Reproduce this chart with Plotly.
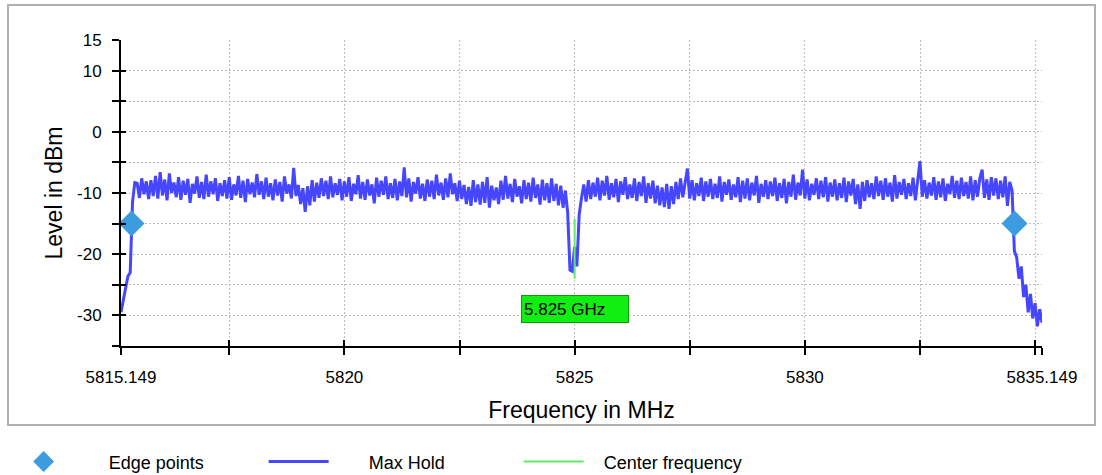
import plotly.graph_objects as go

# ---------------- data ----------------
start_freq_mhz = 5815.149
stop_freq_mhz = 5835.149

max_hold_dbm = [
    -29.5, -27.5, -25.2, -23.6, -23.0, -11.5, -8.3,
    -8.4, -10.8, -7.6, -10.2, -8.1, -11.0, -7.9, -10.5, -7.2, -10.9,
    -6.6, -10.4, -7.8, -11.2, -6.8, -10.0, -8.3, -10.7, -7.4, -11.1,
    -8.0, -10.3, -7.7, -11.6, -8.5, -10.1, -7.3, -10.8, -8.2, -11.0,
    -7.0, -10.6, -8.1, -10.2, -7.6, -11.3, -8.4, -10.5, -7.9, -10.9,
    -7.4, -11.1, -8.6, -10.4, -7.2, -10.8, -8.0, -11.5, -7.7, -10.2,
    -8.3, -10.7, -6.9, -10.3, -8.1, -11.0, -7.5, -10.6, -8.4, -11.2,
    -7.8, -10.4, -8.2, -11.4, -7.3, -10.1, -8.6, -10.9, -5.9, -10.5,
    -8.7, -11.8, -9.2, -13.1, -8.9, -12.0, -7.9, -11.4, -8.3, -10.8,
    -7.6, -10.5, -8.0, -11.0, -7.3, -10.7, -8.4, -10.3, -7.7, -11.2,
    -8.1, -10.6, -7.4, -11.3, -8.5, -10.2, -7.1, -10.9, -8.2, -11.1,
    -7.8, -10.4, -8.6, -11.7, -7.5, -10.6, -8.0, -10.3, -7.3, -11.0,
    -8.4, -10.8, -7.7, -11.2, -8.1, -10.5, -5.8, -10.7, -7.6, -11.4,
    -8.2, -10.1, -7.4, -10.9, -8.5, -11.3, -7.8, -10.6, -8.0, -11.0,
    -7.0, -10.4, -8.3, -11.1, -7.6, -10.7, -6.8, -10.2, -8.4, -11.3,
    -8.0, -11.0, -8.7, -11.8, -9.0, -12.1, -7.9, -11.5, -8.6, -11.9,
    -8.2, -11.6, -7.4, -12.4, -8.8, -11.2, -9.1, -11.8, -8.0, -11.1,
    -7.2, -10.9, -8.5, -11.5, -7.7, -10.6, -8.9, -11.7, -7.9, -11.0,
    -8.3, -11.4, -7.5, -10.8, -8.6, -11.9, -7.8, -11.2, -8.4, -11.6,
    -7.6, -11.3, -8.5, -12.0, -8.8, -12.4, -9.6,
    -13.2, -22.6, -22.8, -18.8, -22.0, -13.5,
    -10.8, -8.6, -11.4, -7.9, -11.0, -8.3, -10.6, -7.5, -11.2, -8.0,
    -10.4, -7.2, -11.1, -8.4, -10.7, -7.7, -11.5, -8.1, -10.3, -7.4,
    -11.0, -8.6, -10.8, -7.6, -11.3, -8.2, -10.5, -7.3, -11.6, -8.4,
    -10.9, -8.0, -11.7, -8.8, -12.0, -9.1, -12.3, -8.5, -12.6, -8.9,
    -11.8, -8.2, -11.0, -7.6, -10.7, -8.3, -6.0, -10.9, -7.9, -11.2,
    -8.4, -10.5, -7.5, -11.3, -8.1, -10.6, -7.7, -11.0, -8.5, -10.8,
    -7.3, -11.4, -8.2, -10.3, -7.8, -11.1, -8.6, -10.7, -7.4, -11.5,
    -8.0, -10.9, -7.6, -11.2, -8.3, -10.4, -7.2, -11.6, -8.5, -10.6,
    -7.9, -11.0, -8.1, -10.5, -7.5, -11.3, -8.4, -10.8, -7.7, -11.7,
    -8.2, -10.6, -7.0, -11.1, -8.3, -10.4, -6.2, -10.9, -7.8, -11.2,
    -8.5, -10.3, -7.6, -11.0, -8.0, -10.7, -7.4, -11.4, -8.3, -10.6,
    -7.8, -11.2, -8.4, -10.8, -7.5, -11.5, -8.1, -10.4, -7.7, -11.8,
    -8.6, -12.6, -8.2, -11.3, -7.9, -10.7, -8.4, -11.0, -7.3, -10.5,
    -8.0, -11.1, -7.6, -10.6, -8.3, -11.4, -7.1, -10.9, -8.2, -10.3,
    -7.7, -11.0, -8.4, -10.5, -7.5, -11.2, -8.0, -4.8, -10.6, -7.9,
    -10.9, -8.3, -10.4, -7.4, -11.1, -8.1, -10.7, -7.6, -11.3, -8.5,
    -10.2, -7.2, -10.8, -8.0, -11.0, -7.5, -10.5, -8.2, -10.9, -7.3,
    -11.2, -7.9, -10.6, -7.6, -6.2, -10.8, -7.8, -11.1, -7.4, -10.4,
    -7.6, -11.0, -8.0, -10.7, -7.3, -12.1, -8.2, -9.6,
    -19.5, -20.5, -24.0, -22.0, -27.0, -25.0, -29.5, -26.5, -30.5, -28.0,
    -31.8, -29.0, -31.2,
]

edge_freqs_mhz = [5815.377, 5834.552]
edge_levels_dbm = [-15.0, -15.0]

center_freq_mhz = 5825.0
center_line_levels_dbm = [-14.2, -24.0]
center_label = "5.825 GHz"
center_label_level_dbm = -28.9

x_tick_vals = [5815.149, 5817.5, 5820, 5822.5, 5825, 5827.5, 5830, 5832.5, 5835, 5835.149]
x_tick_text = ["5815.149", "", "5820", "", "5825", "", "5830", "", "", "5835.149"]
y_tick_vals = [15, 10, 5, 0, -5, -10, -15, -20, -25, -30, -35]
y_tick_text = ["15", "10", "", "0", "", "-10", "", "-20", "", "-30", ""]

# ---------------- derived ----------------
n_pts = len(max_hold_dbm)
step = (stop_freq_mhz - start_freq_mhz) / (n_pts - 1)
freqs_mhz = [start_freq_mhz + i * step for i in range(n_pts)]

FONT = "Liberation Sans, Arial, sans-serif"
GRID = "#bdbdbd"
NB = "\u00a0"

fig = go.Figure()

fig.add_trace(go.Scatter(
    x=freqs_mhz, y=max_hold_dbm, mode="lines", name=NB * 7 + "Max Hold",
    line=dict(color="#4646ff", width=3), legendrank=2,
))
fig.add_trace(go.Scatter(
    x=[center_freq_mhz, center_freq_mhz], y=center_line_levels_dbm, mode="lines",
    name=NB * 3 + "Center frequency", line=dict(color="#66e666", width=2),
    legendrank=3,
))
fig.add_trace(go.Scatter(
    x=edge_freqs_mhz, y=edge_levels_dbm, mode="markers", name=NB * 6 + "Edge points",
    marker=dict(symbol="diamond", size=20, color="#3d9be0"), legendrank=1,
))
# empty trace to activate overlay axes (tick marks crossing the axis lines)
fig.add_trace(go.Scatter(x=[], y=[], xaxis="x2", yaxis="y2", showlegend=False,
                         hoverinfo="skip"))

fig.add_annotation(
    x=center_freq_mhz, y=center_label_level_dbm, text=center_label, showarrow=False,
    font=dict(family=FONT, size=17, color="black"),
    bgcolor="#11ee11", bordercolor="#0c9a0c", borderwidth=1, borderpad=2,
    width=102, height=22, align="left",
)

axis_common = dict(showline=True, linecolor="black", linewidth=2, ticks="outside",
                   tickcolor="black", tickwidth=2, zeroline=False, automargin=False,
                   tickfont=dict(family=FONT, size=17, color="black"))

fig.update_layout(
    width=1102, height=475,
    margin=dict(l=121, r=60, t=40, b=129, autoexpand=False),
    paper_bgcolor="white", plot_bgcolor="white",
    xaxis=dict(range=[start_freq_mhz, stop_freq_mhz], tickmode="array",
               tickvals=x_tick_vals, ticktext=x_tick_text, ticklen=7,
               ticklabelstandoff=8,
               showgrid=True, gridcolor=GRID, griddash="2px,2px", gridwidth=1,
               title=dict(text="Frequency in MHz", standoff=15,
                          font=dict(family=FONT, size=23, color="black")),
               **axis_common),
    yaxis=dict(range=[-35, 15], tickmode="array", tickvals=y_tick_vals,
               ticktext=y_tick_text, ticklen=7, ticklabelstandoff=7,
               showgrid=True, gridcolor=GRID, griddash="2px,2px", gridwidth=1,
               title=dict(text="Level in dBm", standoff=8,
                          font=dict(family=FONT, size=23, color="black")),
               **axis_common),
    xaxis2=dict(range=[start_freq_mhz, stop_freq_mhz], overlaying="x", anchor="y2",
                side="bottom", tickmode="array", tickvals=x_tick_vals, ticks="inside",
                ticklen=6, tickwidth=2, tickcolor="black", showticklabels=False,
                showgrid=False, showline=False, zeroline=False, automargin=False),
    yaxis2=dict(range=[-35, 15], overlaying="y", anchor="x2", side="left",
                tickmode="array", tickvals=y_tick_vals, ticks="inside", ticklen=5,
                tickwidth=2, tickcolor="black", showticklabels=False,
                showgrid=False, showline=False, zeroline=False, automargin=False),
    showlegend=True,
    legend=dict(orientation="h", x=-0.122, xanchor="left", y=-0.318, yanchor="top",
                font=dict(family=FONT, size=18, color="black"),
                itemwidth=60, entrywidth=180, traceorder="normal"),
    shapes=[dict(type="rect", xref="paper", yref="paper",
                 x0=(8 - 121) / 921, x1=(1095 - 121) / 921,
                 y0=(346 - 425) / 306, y1=(346 - 5) / 306,
                 line=dict(color="#b0b0b0", width=2), layer="below")],
)

fig.write_html("out.html", config={"displayModeBar": False},
               post_script="document.body.style.margin='0';")
